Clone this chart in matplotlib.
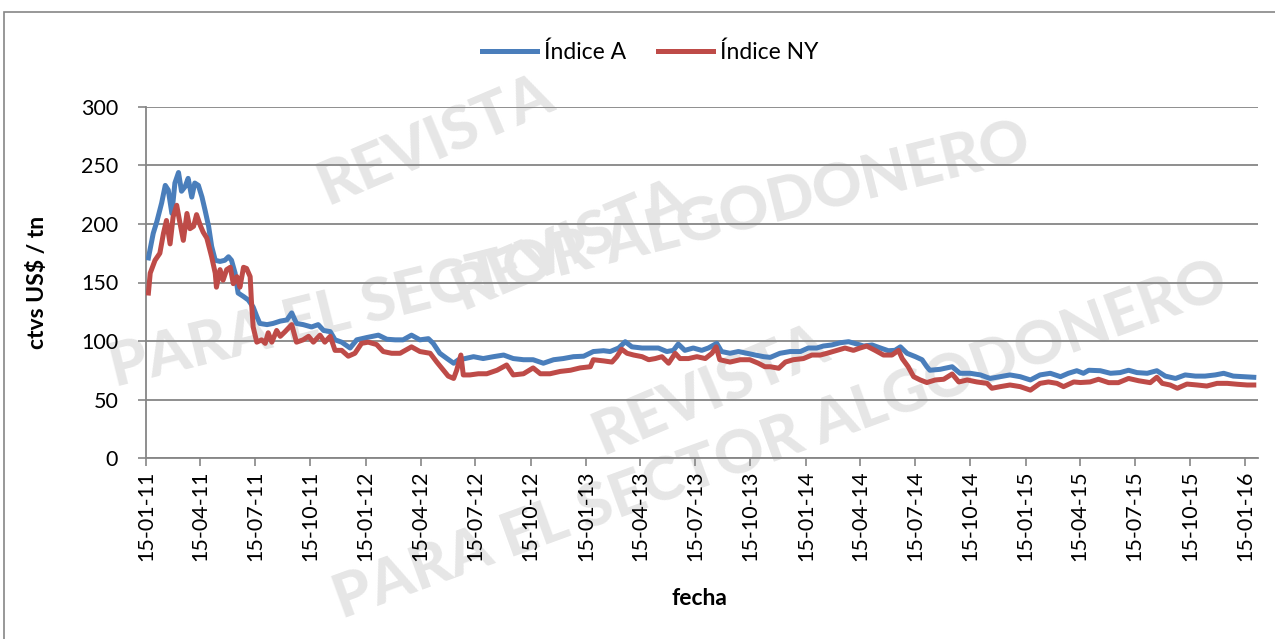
import pandas as pd
import matplotlib
matplotlib.use('Agg')
import matplotlib.pyplot as plt
from matplotlib.patches import Rectangle

plt.rcParams['font.family'] = ['Lato', 'DejaVu Sans']

# dias desde 15-01-2011 y valores (ctvs US$ / tn)
inicio = pd.Timestamp('2011-01-15')

dias_a = [4, 12, 18, 26, 32, 37, 43, 48, 54, 59, 65, 70, 76, 81, 87, 93, 98, 104, 109, 115,
          123, 131, 137, 142, 148, 153, 162, 170, 178, 184, 189, 201, 211, 223, 234, 242, 250,
          261, 275, 286, 295, 306, 314, 325, 339, 350, 367, 386, 400, 414, 427, 441, 455, 469,
          477, 488, 500, 511, 519, 530, 544, 560, 577, 594, 610, 627, 643, 660, 677, 693, 710,
          727, 743, 760, 771, 785, 796, 807, 824, 837, 851, 865, 876, 884, 895, 909, 923, 934,
          948, 956, 970, 984, 998, 1012, 1026, 1037, 1053, 1070, 1087, 1100, 1114, 1125, 1139,
          1153, 1167, 1181, 1192, 1206, 1220, 1233, 1244, 1253, 1264, 1278, 1289, 1297, 1302,
          1319, 1339, 1352, 1369, 1386, 1402, 1419, 1435, 1452, 1469, 1485, 1502, 1519, 1532,
          1546, 1557, 1566, 1585, 1602, 1618, 1632, 1646, 1663, 1679, 1693, 1710, 1726, 1743,
          1759, 1776, 1790, 1806, 1823, 1840]
indice_a = [171, 192, 202, 218, 233, 229, 209, 235, 244, 228, 232, 239, 223, 235, 233, 223, 212,
            198, 181, 169, 168, 169, 172, 169, 158, 141, 138, 135, 129, 121, 115, 114, 115, 117,
            118, 124, 115, 114, 112, 114, 109, 108, 101, 99, 94, 101, 103, 105, 101.5, 101, 101,
            105, 101, 102, 98, 89.5, 85, 81, 84, 85, 86.6, 85, 86.6, 88, 85, 84, 84, 81, 84, 85,
            86.6, 87, 91, 91.7, 91, 94, 99.4, 95, 94, 94, 94, 91, 92, 97.4, 92, 94, 92, 94, 98, 91,
            89.5, 91, 89.5, 88, 86.6, 86, 89.5, 91, 91, 94, 94, 95.7, 96.6, 98.5, 99.4, 97.4, 95.7,
            96.6, 94, 91.7, 92, 95, 89.5, 86.6, 84, 78, 75, 75.8, 78, 72.4, 72.4, 71, 68, 69.5,
            71, 69.5, 66.7, 71, 72.4, 69.5, 72.4, 74.6, 72.4, 75, 74.6, 72.4, 73, 75, 73, 72.4,
            74.6, 70, 68, 71, 70, 70, 71, 72.4, 70, 69.5, 69]

dias_ny = [4, 7, 15, 23, 29, 34, 40, 45, 51, 56, 62, 68, 73, 79, 84, 90, 95, 101, 106, 109,
           115, 117, 123, 128, 134, 140, 145, 151, 156, 162, 167, 173, 175, 178, 184, 192, 198,
           203, 209, 217, 223, 231, 242, 250, 261, 270, 278, 289, 297, 306, 314, 325, 336, 347,
           358, 369, 383, 394, 408, 422, 441, 455, 472, 483, 494, 502, 511, 516, 523, 527, 538,
           552, 566, 583, 599, 610, 627, 643, 655, 671, 688, 705, 721, 738, 743, 760, 774, 782,
           790, 799, 810, 824, 835, 846, 857, 868, 879, 887, 901, 915, 929, 940, 947, 953, 970,
           987, 1003, 1017, 1028, 1037, 1051, 1062, 1075, 1092, 1106, 1120, 1131, 1148, 1161,
           1175, 1186, 1197, 1211, 1225, 1239, 1250, 1256, 1266, 1275, 1286, 1297, 1311, 1325,
           1339, 1350, 1364, 1380, 1397, 1405, 1419, 1435, 1452, 1469, 1485, 1499, 1513, 1524,
           1541, 1552, 1568, 1582, 1599, 1615, 1632, 1649, 1668, 1679, 1688, 1701, 1713, 1729,
           1746, 1762, 1779, 1796, 1813, 1829, 1840]
indice_ny = [141, 158, 169, 175, 192, 203, 183, 206, 216, 202, 186, 209, 196, 198, 208, 199, 193,
             188, 178, 172, 158, 146, 161, 152, 161, 163, 149, 155, 146, 163, 162, 155, 135, 112,
             99, 101, 98, 107, 99, 109, 104, 108, 114, 99, 101, 104, 99, 105, 99, 104, 92, 92, 87,
             89.5, 98, 99, 97, 91, 89.5, 89.5, 95, 91, 89.5, 82, 75, 70, 68, 75, 88, 71, 71, 72,
             72, 75, 79.5, 71, 72, 77, 72, 72, 74, 75, 77, 78, 84, 83, 82, 86.6, 93, 89.5, 88,
             86.6, 84, 85, 86.6, 81, 89.5, 85, 85, 86.6, 85, 89.5, 95, 84, 82, 84, 84, 81, 78, 78,
             76.7, 82, 84, 85, 88, 88, 89.5, 92, 94, 92, 94, 95.7, 92, 88, 88, 92, 85, 78, 69.5,
             66.7, 64.5, 66.7, 67.3, 71.8, 65, 66.7, 65, 63.8, 59.6, 61, 62.4, 61, 58, 63.8, 65,
             63.8, 61, 65, 64.5, 65, 67.3, 64.4, 64.4, 68, 66, 64.4, 69, 63.8, 62.4, 59.6, 63.2,
             62.4, 61.5, 63.8, 63.8, 63, 62.4, 62.4]

ticks_y = [0, 50, 100, 150, 200, 250, 300]

fechas_a = inicio + pd.to_timedelta(dias_a, unit='D')
fechas_ny = inicio + pd.to_timedelta(dias_ny, unit='D')
ticks_x = [inicio + pd.DateOffset(months=3 * i) for i in range(21)]

azul = '#4A7EBB'
rojo = '#BE4B48'
gris = '#868686'

fig = plt.figure(figsize=(12.75, 6.39), dpi=100)
ax = fig.add_axes([146 / 1275, 1 - 458 / 639, (1258 - 146) / 1275, 351 / 639])
ax.set_zorder(2)
ax.set_facecolor('none')

# marca de agua (detras del grafico)
marca = dict(color='#e6e6e6', fontweight='black', ha='center', va='center', zorder=0,
             transform=fig.transFigure)
fig.text(435 / 1275, 1 - 140 / 639, 'REVISTA', fontsize=44, rotation=23, **marca)
fig.text(570 / 1275, 1 - 255 / 639, 'PARA EL SECTOR ALGODONERO', fontsize=44, rotation=14, **marca)
fig.text(570 / 1275, 1 - 245 / 639, 'REVISTA', fontsize=44, rotation=23, **marca)
fig.text(780 / 1275, 1 - 440 / 639, 'PARA EL SECTOR ALGODONERO', fontsize=44, rotation=20, **marca)
fig.text(710 / 1275, 1 - 390 / 639, 'REVISTA', fontsize=44, rotation=23, **marca)

fig.patches.append(Rectangle((4 / 1275, -0.1), 1.2, 1 - 12 / 639 + 0.1, transform=fig.transFigure,
                             fill=False, edgecolor=gris, linewidth=1.2))

ax.plot(fechas_a, indice_a, color=azul, linewidth=3.6, label='Índice A', zorder=3)
ax.plot(fechas_ny, indice_ny, color=rojo, linewidth=3.6, label='Índice NY', zorder=3)

ax.set_ylim(0, 300)
ax.set_yticks(ticks_y)
ax.set_xlim(inicio, inicio + pd.Timedelta(days=1847))
ax.set_xticks(ticks_x)
ax.set_xticklabels([t.strftime('%d-%m-%y') for t in ticks_x], rotation=90)
ax.tick_params(labelsize=15.5, color=gris, width=1.2, length=6)
ax.tick_params(axis='y', pad=14)
ax.tick_params(axis='x', pad=3)
ax.grid(axis='y', color=gris, linewidth=1.3)
ax.set_axisbelow(True)
for lado in ['top', 'right']:
    ax.spines[lado].set_visible(False)
for lado in ['left', 'bottom']:
    ax.spines[lado].set_color(gris)
    ax.spines[lado].set_linewidth(1.3)

ax.set_ylabel('ctvs US$ / tn', fontsize=16.5, fontweight='bold')
ax.yaxis.set_label_coords(-0.088, 0.5)
ax.set_xlabel('fecha', fontsize=16.5, fontweight='bold')
ax.xaxis.set_label_coords(0.498, -0.37)

fig.legend(loc='center', bbox_to_anchor=(650 / 1275, 1 - 52 / 639), ncol=2, frameon=False,
           fontsize=16.5, handlelength=2.4, columnspacing=1.4, handletextpad=0.3)

fig.savefig('out.png', dpi=100)
